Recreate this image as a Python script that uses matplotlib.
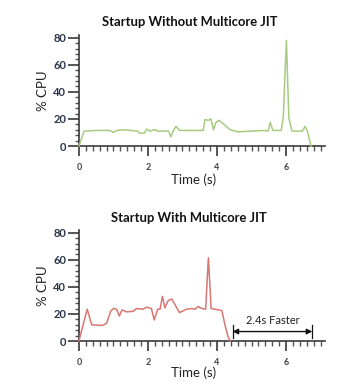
import matplotlib
matplotlib.use("Agg")
import matplotlib.pyplot as plt
from matplotlib.ticker import MultipleLocator

# Data
time_without = [0.0, 0.15, 0.5, 0.9, 1.0, 1.1, 1.3, 1.5, 1.7, 1.75, 1.9, 1.96, 2.05, 2.2, 2.3,
                2.6, 2.66, 2.75, 2.81, 2.92, 3.6, 3.65, 3.75, 3.82, 3.9, 3.96, 4.06, 4.2, 4.38,
                4.6, 5.0, 5.39, 5.48, 5.54, 5.62, 5.86, 5.92, 6.01, 6.08, 6.17, 6.47, 6.55, 6.62, 6.72]
cpu_without = [0, 11, 11.5, 11.5, 10, 11.5, 12, 11.5, 11, 9.5, 9.5, 12.5, 11, 12, 11,
               11, 6.7, 12, 14.5, 11.5, 11.5, 19.5, 19, 20, 12, 17, 19, 16, 12,
               10.5, 11, 11.5, 11, 17.5, 11.5, 11.5, 22, 78, 21, 11, 11, 14.5, 11, 0]

time_with = [0.0, 0.24, 0.37, 0.68, 0.8, 0.92, 1.0, 1.09, 1.17, 1.25, 1.38, 1.57, 1.67, 1.86,
             1.96, 2.1, 2.18, 2.28, 2.35, 2.42, 2.49, 2.59, 2.69, 2.78, 2.91, 3.12, 3.27, 3.37,
             3.45, 3.57, 3.67, 3.75, 3.83, 3.94, 4.14, 4.23, 4.31, 4.38]
cpu_with = [0, 23.5, 12, 11.5, 13, 22, 24, 23.5, 18.5, 23, 21.5, 22, 24, 23.5,
            25, 24, 15.5, 23.5, 23.5, 33, 24.5, 30, 31, 27, 21, 23.5, 24, 23.5,
            25.5, 24, 23.5, 61.5, 24, 23.5, 22.5, 12, 4, 0]

titles = ["Startup Without Multicore JIT", "Startup With Multicore JIT"]
x_ticks = [0, 2, 4, 6]
y_ticks = [0, 20, 40, 60, 80]
faster_label = "2.4s Faster"
faster_span = (4.45, 6.76)

green = "#a6cb7f"
red = "#d97672"
axis_col = "#3a3a3a"

fig = plt.figure(figsize=(3.62, 3.90), dpi=100)
ax1 = fig.add_axes([0.218, 0.6256, 0.680, 0.2847])
ax2 = fig.add_axes([0.218, 0.1256, 0.680, 0.2847])

font = ["Lato", "DejaVu Sans"]
title_y = [1 - 22 / 390, 1 - 218 / 390]
xlabel_y = [-0.245, -0.225]

for i, (ax, t, y, col, title) in enumerate([(ax1, time_without, cpu_without, green, titles[0]),
                                            (ax2, time_with, cpu_with, red, titles[1])]):
    ax.plot(t, y, color=col, lw=1.1, clip_on=False, zorder=3)
    ax.set_xlim(0, 7.13)
    ax.set_ylim(0, 82)
    ax.spines["top"].set_visible(False)
    ax.spines["right"].set_visible(False)
    for s in ("left", "bottom"):
        ax.spines[s].set_color(axis_col)
        ax.spines[s].set_linewidth(1.2)
    ax.set_xticks(x_ticks)
    ax.set_yticks(y_ticks)
    ax.xaxis.set_minor_locator(MultipleLocator(0.2))
    ax.yaxis.set_minor_locator(MultipleLocator(4))
    ax.tick_params(axis="x", which="major", direction="out", length=7, width=1.2,
                   color=axis_col, pad=5, labelsize=6.5, labelcolor="#444444")
    ax.tick_params(axis="x", which="minor", direction="out", length=3.5, width=1.0,
                   color="#555555")
    ax.tick_params(axis="y", which="major", direction="out", length=8, width=1.2,
                   color=axis_col, pad=1, labelsize=8, labelcolor="#2b3548")
    ax.tick_params(axis="y", which="minor", direction="out", length=3, width=1.0,
                   color="#555555")
    for lab in ax.get_xticklabels():
        lab.set_fontweight("bold")
        lab.set_family(font)
    for lab in ax.get_yticklabels():
        lab.set_fontweight("bold")
        lab.set_family(font)
    fig.text(0.523, title_y[i], title, fontsize=9.4, fontweight="bold", family=font,
             color="#111111", ha="center", va="center")
    ax.set_ylabel("% CPU", fontsize=9.5, family=font, labelpad=3, color="#222222")
    ax.set_xlabel("Time (s)", fontsize=9.5, family=font, color="#222222")
    ax.xaxis.set_label_coords(0.467, xlabel_y[i])

# Annotation on the second chart
x0, x1 = faster_span
ax2.annotate("", xy=(x0, 7), xytext=(x1, 7),
             arrowprops=dict(arrowstyle="<|-|>", color="#111111", lw=1.0,
                             mutation_scale=8, shrinkA=0, shrinkB=0))
ax2.plot([x0, x0], [2.5, 11.5], color="#111111", lw=0.9)
ax2.plot([x1, x1], [2.5, 11.5], color="#111111", lw=0.9)
ax2.text((x0 + x1) / 2, 15, faster_label, ha="center", va="center",
         fontsize=8, family=font, color="#222222")

fig.savefig("out.png", dpi=100)
